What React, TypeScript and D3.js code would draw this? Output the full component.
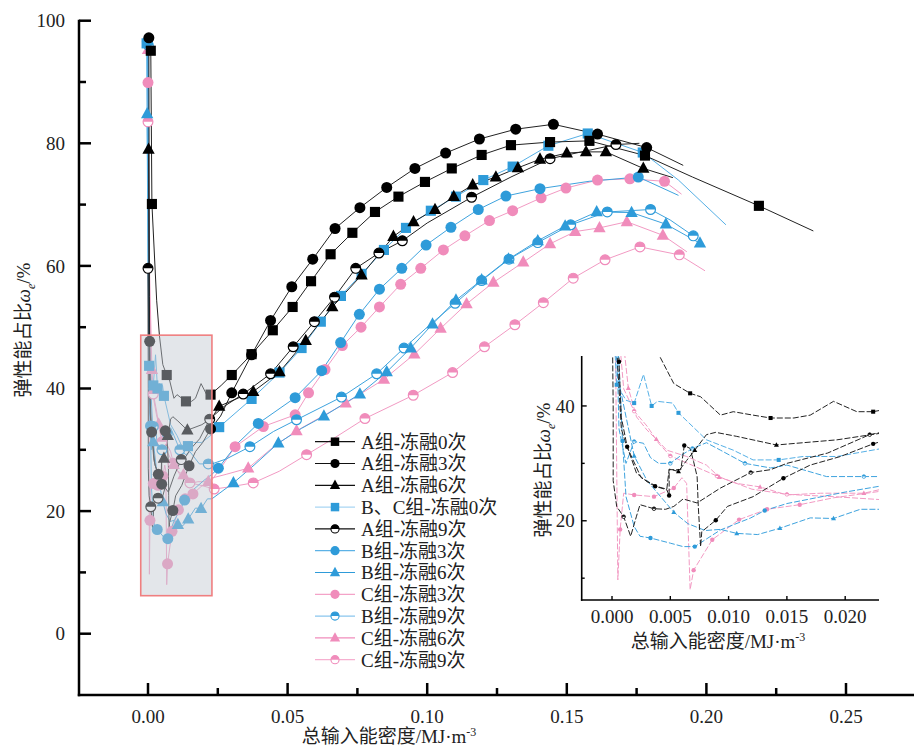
import React from "react";
import * as d3 from "d3";

type P = [number, number, number];

// [x = total input energy density (MJ·m^-3), y = elastic energy ratio (%), marker flag]
const A0: P[] = [[0.001,95.1,1],[0.0014,70.1,1],[0.0031,54.4,0],[0.0041,48.6,0],[0.0053,43.9,0],[0.0067,42.2,1],[0.0076,41.6,0],[0.0093,38.4,0],[0.0104,39.0,0],[0.0121,38.4,0],[0.0136,37.9,1],[0.0156,37.9,0],[0.017,38.4,0],[0.019,40.8,0],[0.021,39.0,0],[0.0224,39.0,1],[0.0262,40.5,0],[0.03,42.2,1],[0.0371,45.6,1],[0.0447,49.5,1],[0.0518,53.3,1],[0.0584,57.5,1],[0.0654,61.9,1],[0.0732,65.4,1],[0.0813,68.8,1],[0.0897,71.3,1],[0.0992,73.7,1],[0.1088,75.9,1],[0.1195,78.1,1],[0.13,79.7,1],[0.144,80.2,1],[0.1581,80.4,1],[0.178,78.0,1],[0.195,74.5,0],[0.2188,69.8,1],[0.2383,65.7,0]];
const A3: P[] = [[0.0003,97.2,1],[0.0005,55,0],[0.0006,47.7,1],[0.0008,38,0],[0.0013,32.9,1],[0.0021,28.3,0],[0.003,26.8,0],[0.0037,26.0,1],[0.0047,25.4,0],[0.0049,24.4,1],[0.0049,28.9,0],[0.0059,28.9,0],[0.0062,33.1,1],[0.0067,32.6,0],[0.007,30.3,0],[0.0073,27.7,0],[0.0074,22.5,0],[0.0076,15.5,0],[0.0077,18.1,0],[0.0089,20.1,1],[0.0099,22.5,0],[0.0121,24.2,0],[0.0147,27.4,1],[0.017,29.7,0],[0.0196,31.2,0],[0.0224,33.4,1],[0.026,35.5,0],[0.03,39.3,1],[0.0371,45.5,1],[0.0439,51.1,1],[0.0515,56.6,1],[0.059,61.1,1],[0.067,66.1,1],[0.0759,69.5,1],[0.0855,72.8,1],[0.0956,75.9,1],[0.1066,78.4,1],[0.1187,80.7,1],[0.1317,82.3,1],[0.1452,83.1,1],[0.161,81.5,1],[0.1786,79.3,1],[0.1917,76.4,0]];
const A6: P[] = [[0.0002,79.0,1],[0.0004,50,0],[0.0008,36,0],[0.0012,33.3,0],[0.0016,31.5,0],[0.0025,27.5,0],[0.0038,26.0,0],[0.0047,25.5,0],[0.0049,29,0],[0.0057,28.6,1],[0.0064,30.5,0],[0.0071,32.3,1],[0.0081,35.0,0],[0.0089,35.4,0],[0.0107,34.7,0],[0.0141,33.2,1],[0.0193,34.1,0],[0.0229,35.2,0],[0.0255,37.1,1],[0.0377,39.5,1],[0.0471,42.7,1],[0.0565,47.8,1],[0.066,53.3,1],[0.0765,58.5,1],[0.0879,64.8,1],[0.0951,67.2,1],[0.1028,69.2,1],[0.1095,71.3,1],[0.1163,73.2,1],[0.1246,74.5,1],[0.1325,76.0,1],[0.1404,77.4,1],[0.15,78.4,1],[0.1569,78.6,1],[0.164,78.6,1],[0.1774,75.9,1],[0.188,74.4,0]];
const BC0: P[] = [[-0.0005,96.3,1],[0.0,60,0],[0.0004,43.7,1],[0.0012,41,0],[0.0019,40.5,1],[0.0027,45.5,0],[0.0034,40.0,1],[0.0039,40.8,0],[0.0052,40.5,0],[0.0057,38.8,1],[0.0081,34.1,0],[0.0104,32.3,0],[0.0121,30.6,0],[0.0143,30.6,1],[0.0164,31.2,0],[0.0193,31.2,0],[0.0229,32.5,0],[0.0255,33.7,1],[0.0371,38.3,1],[0.0471,42.6,1],[0.055,46.6,1],[0.0619,50.9,1],[0.0691,55.1,1],[0.0765,58.7,1],[0.0845,62.6,1],[0.0924,66.2,1],[0.1013,69.0,1],[0.1103,71.3,1],[0.1201,74.0,1],[0.1306,76.2,1],[0.1434,79.6,1],[0.1575,81.6,1],[0.1772,78.5,1],[0.19,74,0],[0.207,66.7,0]];
const A9: P[] = [[0.0,59.6,1],[0.0001,40,0],[0.0001,27,0],[0.0004,22.5,0],[0.001,20.7,1],[0.0016,17.3,0],[0.0021,20.8,0],[0.0024,22.8,0],[0.0036,22.1,1],[0.0046,22,0],[0.0053,22.5,0],[0.0061,23.8,0],[0.0073,23.1,0],[0.0093,25.7,0],[0.0119,28.4,1],[0.0136,28.9,0],[0.015,30,0],[0.0185,31.8,0],[0.0221,35.0,1],[0.027,37,0],[0.0341,39.1,1],[0.0439,42.4,1],[0.052,46.8,1],[0.0596,50.9,1],[0.0668,54.9,1],[0.0744,59.6,1],[0.0827,62.1,1],[0.0911,64.1,1],[0.1,67,0],[0.1159,71.2,1],[0.13,74.5,0],[0.144,77.5,1],[0.1676,79.8,1],[0.176,80,0]];
const B3: P[] = [[-0.0002,96.6,1],[0.0003,60,0],[0.0009,33.9,1],[0.0012,24.2,0],[0.0019,19,0],[0.0024,17.3,0],[0.0033,17.0,1],[0.005,16.1,0],[0.0061,15.5,0],[0.0071,15.5,1],[0.008,16.7,0],[0.0093,18.4,0],[0.0119,20.5,0],[0.0131,21.8,1],[0.015,23,0],[0.0175,24,0],[0.02,25,0],[0.0229,26,0],[0.0252,27.0,1],[0.032,31,0],[0.0395,34.3,1],[0.0527,38.5,1],[0.0622,42.9,1],[0.069,47.5,1],[0.0757,52.1,1],[0.0829,56.2,1],[0.0909,59.6,1],[0.0996,63.4,1],[0.1085,66.3,1],[0.1183,69.2,1],[0.1282,71.4,1],[0.1404,72.6,1],[0.158,73.8,0],[0.1756,74.5,1],[0.19,71.5,0]];
const B6: P[] = [[-0.0003,84.8,1],[0.0002,55,0],[0.0005,45,0],[0.0019,31.3,1],[0.003,27,0],[0.0053,21.5,1],[0.0065,19.5,0],[0.008,18.3,0],[0.0093,18.5,0],[0.0107,17.8,1],[0.0125,17.6,0],[0.0144,18.7,1],[0.017,20.5,0],[0.019,20.4,1],[0.0213,22,0],[0.0229,22,0],[0.0306,24.6,1],[0.038,27.5,0],[0.0467,31.1,1],[0.055,33.5,0],[0.063,35.5,1],[0.0759,39.1,1],[0.0855,42.7,1],[0.0941,46.6,1],[0.1019,50.5,1],[0.1103,54.4,1],[0.1195,57.7,1],[0.1291,61.1,1],[0.1396,64.1,1],[0.1494,66.5,1],[0.1607,68.8,1],[0.1732,68.7,1],[0.1855,66.8,1],[0.1977,63.7,1]];
const C3: P[] = [[0.0,89.9,1],[0.0003,50,0],[0.0005,9.7,0],[0.0007,18.5,1],[0.001,24.8,0],[0.0019,24.5,1],[0.0036,24.2,1],[0.0053,25.7,1],[0.006,27.5,0],[0.0064,26.5,0],[0.0067,8,0],[0.007,11.4,1],[0.0086,16.7,1],[0.0109,20.2,1],[0.0133,22.0,1],[0.0161,22.8,1],[0.019,24,0],[0.0229,25.1,0],[0.026,27,0],[0.0312,30.5,1],[0.0413,33.8,1],[0.0527,35.7,1],[0.0575,39.3,1],[0.0634,43.1,1],[0.0696,47.0,1],[0.0763,50.0,1],[0.0829,53.3,1],[0.0905,57.0,1],[0.0977,59.6,1],[0.1058,62.6,1],[0.1135,64.9,1],[0.1223,67.4,1],[0.1306,69.0,1],[0.1408,71.1,1],[0.1497,72.7,1],[0.161,74.0,1],[0.1726,74.2,1],[0.185,73.8,1],[0.1911,71.7,0]];
const B9: P[] = [[0.0001,96,1],[0.0003,60,0],[0.0006,36,0],[0.0012,30,0],[0.0019,33.8,1],[0.0027,33.5,0],[0.0033,31,0],[0.004,30,0],[0.005,30.0,1],[0.006,31.5,0],[0.0069,32.6,1],[0.0081,33.6,0],[0.0093,32.3,0],[0.0114,30.0,1],[0.0136,29.2,0],[0.015,29.7,0],[0.0184,27.7,0],[0.0216,27.7,1],[0.0229,27.7,0],[0.028,28.5,0],[0.0365,30.5,1],[0.045,33,0],[0.0532,34.9,1],[0.0693,38.6,1],[0.0819,42.4,1],[0.0917,46.6,1],[0.1,50,0],[0.11,53.9,1],[0.1195,57.6,1],[0.1293,61.1,1],[0.1396,63.8,1],[0.1514,66.7,1],[0.1645,68.8,1],[0.18,69.2,1],[0.187,67.5,0],[0.1953,64.9,1]];
const C6: P[] = [[0.0,95.3,1],[0.0005,60,0],[0.0014,43.1,1],[0.0021,38.1,0],[0.003,35.8,0],[0.0038,34.2,1],[0.0047,32.3,0],[0.0064,31.2,0],[0.0081,29.7,0],[0.0092,27.6,1],[0.0107,26.5,0],[0.0127,25.9,1],[0.015,24.5,0],[0.0179,24.8,0],[0.0216,24.8,1],[0.0229,25.4,0],[0.028,26,0],[0.0359,27.0,1],[0.045,30.5,0],[0.0532,33.1,1],[0.0708,37.6,1],[0.0845,41.5,1],[0.0954,45.6,1],[0.1048,49.8,1],[0.1141,53.8,1],[0.1237,57.3,1],[0.1344,60.6,1],[0.144,63.6,1],[0.153,65.6,1],[0.1617,66.2,1],[0.1715,67.2,1],[0.1844,65.0,1],[0.193,62.3,0]];
const C9: P[] = [[0.0,83.5,1],[0.0005,55,0],[0.001,43,0],[0.0019,39.1,1],[0.003,36.5,0],[0.004,33.5,0],[0.005,31.3,1],[0.0065,30,0],[0.009,27.8,1],[0.012,25.5,0],[0.015,24.6,1],[0.019,24.2,0],[0.0237,23.6,1],[0.03,24,0],[0.0377,24.6,1],[0.047,26.5,0],[0.0568,29.2,1],[0.067,32,0],[0.0777,35.1,1],[0.095,38.9,1],[0.1091,42.6,1],[0.1205,46.8,1],[0.1314,50.4,1],[0.1416,54.0,1],[0.1523,58.0,1],[0.1637,61.0,1],[0.1762,63.1,1],[0.1903,61.8,1],[0.1995,59.2,0]];

const LEGEND_LABELS = ["A组-冻融0次","A组-冻融3次","A组-冻融6次","B、C组-冻融0次","A组-冻融9次","B组-冻融3次","B组-冻融6次","C组-冻融3次","B组-冻融9次","C组-冻融6次","C组-冻融9次"];
const X_TICKS = [0, 0.05, 0.1, 0.15, 0.2, 0.25];
const X_MINOR = [0.025, 0.075, 0.125, 0.175, 0.225];
const Y_TICKS = [0, 20, 40, 60, 80, 100];
const Y_MINOR = [10, 30, 50, 70, 90];
const IX_TICKS = [0, 0.005, 0.01, 0.015, 0.02];
const IY_TICKS = [20, 40];
const IY_MINOR = [10, 30];

const BLACK = "#000000";
const BLUE = "#2e9bd9";
const PINK = "#f08cbb";

type Shape = "square" | "circle" | "triangle" | "half";
const SERIES: { data: P[]; color: string; line: string; legLine: string; shape: Shape }[] = [
  { data: A0, color: BLACK, line: "#222", legLine: "#111", shape: "square" },
  { data: A3, color: BLACK, line: "#222", legLine: "#111", shape: "circle" },
  { data: A6, color: BLACK, line: "#222", legLine: "#111", shape: "triangle" },
  { data: BC0, color: BLUE, line: "#56b0e6", legLine: "#a9d6f3", shape: "square" },
  { data: A9, color: BLACK, line: "#222", legLine: "#111", shape: "half" },
  { data: B3, color: BLUE, line: "#3ea3de", legLine: "#5cb2e6", shape: "circle" },
  { data: B6, color: BLUE, line: "#3ea3de", legLine: "#2e9bd9", shape: "triangle" },
  { data: C3, color: PINK, line: "#f29ac3", legLine: "#f4a3c8", shape: "circle" },
  { data: B9, color: BLUE, line: "#3ea3de", legLine: "#8ac6ee", shape: "half" },
  { data: C6, color: PINK, line: "#f29ac3", legLine: "#f08cbb", shape: "triangle" },
  { data: C9, color: PINK, line: "#f29ac3", legLine: "#f6b0d0", shape: "half" },
];
const DRAW_ORDER = [10, 9, 7, 8, 6, 5, 3, 4, 2, 1, 0];

const FONT = "'Liberation Serif','Times New Roman','Noto Sans CJK SC',serif";

function Marker({ shape, cx, cy, s, color, sw = 1 }: { shape: Shape; cx: number; cy: number; s: number; color: string; sw?: number }) {
  if (shape === "square") {
    const a = s * 0.92;
    return <rect x={cx - a} y={cy - a} width={2 * a} height={2 * a} fill={color} />;
  }
  if (shape === "circle") return <circle cx={cx} cy={cy} r={s} fill={color} />;
  if (shape === "triangle") {
    const h = s * 1.25;
    return <path d={`M${cx},${cy - h}L${cx - s * 1.12},${cy + s * 0.8}L${cx + s * 1.12},${cy + s * 0.8}Z`} fill={color} />;
  }
  const r = s - sw / 2;
  return (
    <g>
      <circle cx={cx} cy={cy} r={r} fill="#fff" stroke={color} strokeWidth={sw} />
      <path d={`M${cx - r},${cy}A${r},${r} 0 0 1 ${cx + r},${cy}Z`} fill={color} />
    </g>
  );
}

export default function App() {
  const W = 914, H = 748;
  const x = d3.scaleLinear().domain([0, 0.25]).range([148, 846]);
  const y = d3.scaleLinear().domain([0, 100]).range([633.7, 20.7]);
  const axL = 79, axB = y(-10), axR = 914;

  // inset / zoom box domain
  const bx0 = -0.0026, bx1 = 0.0229, by0 = 6.2, by1 = 48.7;
  const xi = d3.scaleLinear().domain([bx0, bx1]).range([581.7, 879]);
  const yi = d3.scaleLinear().domain([by0, by1]).range([600, 356]);

  const lineMain = d3.line<P>().x((d) => x(d[0])).y((d) => y(d[1]));
  const lineIn = d3.line<P>().x((d) => xi(d[0])).y((d) => yi(d[1]));

  const legY0 = 441.7, legDy = 21.8;

  return (
    <svg width={W} height={H} style={{ position: "absolute", left: 0, top: 0, background: "#fff" }} fontFamily={FONT}>
      <defs>
        <clipPath id="inClip">
          <rect x={xi(bx0)} y={yi(by1)} width={xi(bx1) - xi(bx0)} height={yi(by0) - yi(by1)} />
        </clipPath>
      </defs>
      <rect width={W} height={H} fill="#fff" />

      {/* main lines */}
      {DRAW_ORDER.map((i) => (
        <path key={"l" + i} d={lineMain(SERIES[i].data) || ""} fill="none" stroke={SERIES[i].line} strokeWidth={1} />
      ))}
      {DRAW_ORDER.map((i) => (
        <g key={"m" + i}>
          {SERIES[i].data.filter((d) => d[2] === 1).map((d, j) => (
            <Marker key={j} shape={SERIES[i].shape} cx={x(d[0])} cy={y(d[1])} s={5.5} color={SERIES[i].color} sw={1.2} />
          ))}
        </g>
      ))}

      {/* zoom box */}
      <rect x={x(bx0)} y={y(by1)} width={x(bx1) - x(bx0)} height={y(by0) - y(by1)} fill="rgb(194,200,209)" fillOpacity={0.46} />
      <rect x={x(bx0)} y={y(by1)} width={x(bx1) - x(bx0)} height={y(by0) - y(by1)} fill="none" stroke="#ef7f80" strokeWidth={1.6} />

      {/* main axes */}
      <line x1={axL} x2={axL} y1={y(100) - 1} y2={axB + 1.2} stroke="#000" strokeWidth={2.5} />
      <line x1={axL - 1.2} x2={axR} y1={axB} y2={axB} stroke="#000" strokeWidth={2.5} />
      {Y_TICKS.map((t) => (
        <g key={"yt" + t}>
          <line x1={axL} x2={axL + 12} y1={y(t)} y2={y(t)} stroke="#000" strokeWidth={2.5} />
          <text x={axL - 14} y={y(t)} dy="0.35em" textAnchor="end" fontSize={19} fill="#222">{t}</text>
        </g>
      ))}
      {Y_MINOR.map((t) => (
        <line key={"ym" + t} x1={axL} x2={axL + 7} y1={y(t)} y2={y(t)} stroke="#000" strokeWidth={2.5} />
      ))}
      {X_TICKS.map((t) => (
        <g key={"xt" + t}>
          <line x1={x(t)} x2={x(t)} y1={axB} y2={axB - 12} stroke="#000" strokeWidth={2.5} />
          <text x={x(t)} y={axB + 28} textAnchor="middle" fontSize={19} fill="#222">{d3.format(".2f")(t)}</text>
        </g>
      ))}
      {X_MINOR.map((t) => (
        <line key={"xm" + t} x1={x(t)} x2={x(t)} y1={axB} y2={axB - 7} stroke="#000" strokeWidth={2.5} />
      ))}
      <text x={389} y={743} textAnchor="middle" fontSize={19} fill="#222">
        总输入能密度/MJ·m<tspan dy={-7} fontSize={12}>-3</tspan>
      </text>
      <text transform={`translate(30,${330}) rotate(-90)`} textAnchor="middle" fontSize={19} fill="#222">
        弹性能占比<tspan fontStyle="italic">ω</tspan><tspan fontStyle="italic" fontSize={12} dy={5}>e</tspan><tspan dy={-5}>/%</tspan>
      </text>

      {/* legend */}
      {SERIES.map((s, i) => {
        const ly = legY0 + i * legDy;
        return (
          <g key={"lg" + i}>
            <line x1={315} x2={355} y1={ly} y2={ly} stroke={s.legLine} strokeWidth={1.2} />
            <Marker shape={s.shape} cx={335} cy={ly} s={4.6} color={s.color} sw={1.1} />
            <text x={361} y={ly} dy="0.36em" fontSize={19} fill="#222">{LEGEND_LABELS[i]}</text>
          </g>
        );
      })}

      {/* inset */}
      <g clipPath="url(#inClip)">
        {DRAW_ORDER.map((i) => (
          <path key={"il" + i} d={lineIn(SERIES[i].data) || ""} fill="none" stroke={SERIES[i].line} strokeWidth={1} strokeDasharray="6,2" />
        ))}
        {DRAW_ORDER.map((i) => (
          <g key={"im" + i}>
            {SERIES[i].data.filter((d) => d[2] === 1).map((d, j) => (
              <Marker key={j} shape={SERIES[i].shape} cx={xi(d[0])} cy={yi(d[1])} s={2.2} color={SERIES[i].color} sw={0.8} />
            ))}
          </g>
        ))}
      </g>
      <line x1={xi(bx0)} x2={xi(bx0)} y1={yi(by1)} y2={yi(by0) + 0.8} stroke="#000" strokeWidth={1.6} />
      <line x1={xi(bx0) - 0.8} x2={xi(bx1)} y1={yi(by0)} y2={yi(by0)} stroke="#000" strokeWidth={1.6} />
      {IY_TICKS.map((t) => (
        <g key={"iyt" + t}>
          <line x1={xi(bx0)} x2={xi(bx0) + 5} y1={yi(t)} y2={yi(t)} stroke="#000" strokeWidth={1.4} />
          <text x={xi(bx0) - 7} y={yi(t)} dy="0.35em" textAnchor="end" fontSize={19} fill="#222">{t}</text>
        </g>
      ))}
      {IY_MINOR.map((t) => (
        <line key={"iym" + t} x1={xi(bx0)} x2={xi(bx0) + 3} y1={yi(t)} y2={yi(t)} stroke="#000" strokeWidth={1.4} />
      ))}
      {IX_TICKS.map((t) => (
        <g key={"ixt" + t}>
          <line x1={xi(t)} x2={xi(t)} y1={yi(by0)} y2={yi(by0) - 4} stroke="#000" strokeWidth={1.4} />
          <text x={xi(t)} y={yi(by0) + 23} textAnchor="middle" fontSize={19} fill="#222">{d3.format(".3f")(t)}</text>
        </g>
      ))}
      <text x={718} y={648} textAnchor="middle" fontSize={19} fill="#222">
        总输入能密度/MJ·m<tspan dy={-7} fontSize={12}>-3</tspan>
      </text>
      <text transform={`translate(550,${470}) rotate(-90)`} textAnchor="middle" fontSize={19} fill="#222">
        弹性能占比<tspan fontStyle="italic">ω</tspan><tspan fontStyle="italic" fontSize={12} dy={5}>e</tspan><tspan dy={-5}>/%</tspan>
      </text>
    </svg>
  );
}
